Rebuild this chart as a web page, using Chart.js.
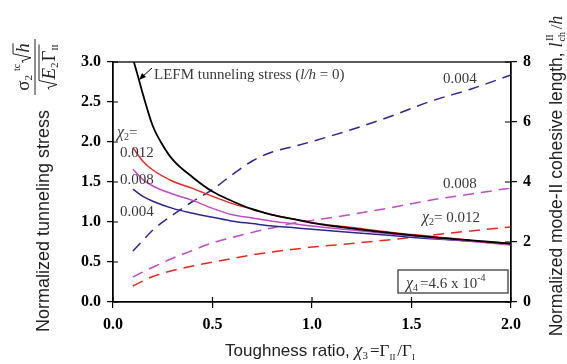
<!DOCTYPE html>
<html>
<head>
<meta charset="utf-8">
<script src="https://cdn.jsdelivr.net/npm/chart.js@4.4.0/dist/chart.umd.min.js"></script>
<style>
  html, body { margin: 0; padding: 0; background: #fff; }
  #chartDiv { display: block; }
</style>
</head>
<body>
<canvas id="chartDiv" width="567" height="364"></canvas>
<script>
// toughness ratio values (x)
const xs = [0.1, 0.15, 0.2, 0.3, 0.4, 0.5, 0.6, 0.7, 0.8, 0.9, 1.0, 1.2, 1.4, 1.6, 1.8, 2.0];
const xLefm = [0.105, 0.13, 0.15, 0.2, 0.25, 0.3, 0.4, 0.5, 0.6, 0.7, 0.8, 0.9, 1.0, 1.2, 1.4, 1.6, 1.8, 2.0];

// normalized tunneling stress (left axis)
const lefm = [3.0, 2.78, 2.6, 2.2, 1.96, 1.78, 1.56, 1.38, 1.26, 1.16, 1.09, 1.04, 0.99, 0.92, 0.86, 0.81, 0.77, 0.73];
const stress012 = [1.93, 1.76, 1.65, 1.51, 1.42, 1.32, 1.23, 1.16, 1.09, 1.04, 0.99, 0.93, 0.87, 0.82, 0.77, 0.73];
const stress008 = [1.66, 1.53, 1.45, 1.35, 1.27, 1.17, 1.09, 1.05, 1.01, 0.98, 0.95, 0.9, 0.85, 0.8, 0.76, 0.71];
const stress004 = [1.41, 1.32, 1.26, 1.17, 1.11, 1.06, 1.01, 0.98, 0.95, 0.93, 0.91, 0.87, 0.83, 0.79, 0.76, 0.72];

// normalized cohesive length (right axis)
const len004 = [1.7, 2.05, 2.4, 2.9, 3.35, 3.75, 4.25, 4.7, 5.0, 5.17, 5.35, 5.75, 6.2, 6.7, 7.1, 7.57];
const len008 = [0.83, 1.0, 1.16, 1.46, 1.72, 1.97, 2.15, 2.32, 2.47, 2.62, 2.72, 2.92, 3.15, 3.4, 3.6, 3.8];
const len012 = [0.53, 0.7, 0.85, 1.05, 1.2, 1.33, 1.45, 1.57, 1.67, 1.75, 1.83, 1.95, 2.08, 2.23, 2.37, 2.5];

const RED = "#e8281f", MAG = "#c24cc4", BLUE = "#2c2790", TXT = "#3a3a3a";
const SERIF = "'Liberation Serif', 'Times New Roman', serif";
const SANS = "'Liberation Sans', Arial, sans-serif";

const pts = (xArr, yArr) => yArr.map((y, i) => ({ x: xArr[i], y: y }));

const solid = (label, xArr, yArr, color, w) => ({
  label, data: pts(xArr, yArr), borderColor: color, borderWidth: w || 1.5,
  yAxisID: "y", pointRadius: 0, cubicInterpolationMode: "monotone", showLine: true,
});
const dashed = (label, yArr, color) => ({
  label, data: pts(xs, yArr), borderColor: color, borderWidth: 1.5, borderDash: [11, 7],
  yAxisID: "y2", pointRadius: 0, cubicInterpolationMode: "monotone", showLine: true,
});

// draws a list of text runs one after another, returns end x
function runs(ctx, list, x, y) {
  list.forEach((r) => {
    ctx.font = r.f;
    ctx.fillText(r.t, x, y + (r.dy || 0));
    x += ctx.measureText(r.t).width + (r.gap || 0);
  });
  return x;
}
function runsWidth(ctx, list) {
  let w = 0;
  list.forEach((r) => { ctx.font = r.f; w += ctx.measureText(r.t).width + (r.gap || 0); });
  return w;
}
// radical sign starting at x0, baseline b, over a radicand of width w
function radical(ctx, x0, b, w) {
  ctx.beginPath();
  ctx.moveTo(x0, b - 6);
  ctx.lineTo(x0 + 2, b - 7);
  ctx.lineTo(x0 + 5, b + 2);
  ctx.lineTo(x0 + 9, b - 16);
  ctx.lineTo(x0 + 10 + w, b - 16);
  ctx.stroke();
  return x0 + 10;
}

const fs = (s, st) => `${st || ""} ${s}px ${SERIF}`;

const textPlugin = {
  id: "texts",
  afterDraw(chart) {
    const ctx = chart.ctx;
    const a = chart.chartArea;
    ctx.save();

    // frame
    ctx.strokeStyle = "#000";
    ctx.lineWidth = 1.3;
    ctx.strokeRect(a.left, a.top, a.right - a.left, a.bottom - a.top);

    // inward tick halves
    ctx.lineWidth = 1.2;
    ctx.beginPath();
    chart.scales.x.ticks.forEach((t) => {
      const p = chart.scales.x.getPixelForValue(t.value);
      ctx.moveTo(p, a.bottom); ctx.lineTo(p, a.bottom - 5);
    });
    chart.scales.y.ticks.forEach((t) => {
      const p = chart.scales.y.getPixelForValue(t.value);
      ctx.moveTo(a.left, p); ctx.lineTo(a.left + 5, p);
    });
    chart.scales.y2.ticks.forEach((t) => {
      const p = chart.scales.y2.getPixelForValue(t.value);
      ctx.moveTo(a.right, p); ctx.lineTo(a.right - 6, p);
    });
    ctx.stroke();

    // annotations
    ctx.fillStyle = TXT;
    ctx.textBaseline = "alphabetic";
    ctx.textAlign = "left";
    runs(ctx, [{ t: "χ", f: fs(16, "italic") }, { t: "2", f: fs(10), dy: 3 }, { t: "=", f: fs(15) }], 117, 137);
    ctx.font = fs(15);
    ctx.fillText("0.012", 120, 157);
    ctx.fillText("0.008", 120, 184);
    ctx.fillText("0.004", 120, 216);
    ctx.fillText("0.004", 443, 83);
    ctx.fillText("0.008", 443, 188);
    runs(ctx, [{ t: "χ", f: fs(16, "italic") }, { t: "2", f: fs(10), dy: 3 }, { t: "= 0.012", f: fs(15) }], 422, 222);
    runs(ctx, [{ t: "LEFM tunneling stress (", f: fs(15) }, { t: "l/h", f: fs(15, "italic") }, { t: " = 0)", f: fs(15) }], 154, 79);

    // arrow
    ctx.strokeStyle = "#000";
    ctx.fillStyle = "#000";
    ctx.lineWidth = 1;
    ctx.beginPath();
    ctx.moveTo(152, 68); ctx.lineTo(142, 77);
    ctx.stroke();
    ctx.beginPath();
    ctx.moveTo(139, 80); ctx.lineTo(146, 77); ctx.lineTo(142, 73);
    ctx.closePath(); ctx.fill();

    // chi4 box
    ctx.strokeStyle = "#555";
    ctx.lineWidth = 1.5;
    ctx.fillStyle = "#fff";
    ctx.fillRect(398, 270, 110, 23);
    ctx.strokeRect(398, 270, 110, 23);
    ctx.fillStyle = TXT;
    runs(ctx, [{ t: "χ", f: fs(16, "italic") }, { t: "4", f: fs(10), dy: 3, gap: 2 }, { t: "=4.6 x 10", f: fs(15) }, { t: "-4", f: fs(10), dy: -7 }], 406, 288);

    // x axis title
    ctx.fillStyle = "#222";
    const xt = [
      { t: "Toughness ratio, ", f: `17px ${SANS}` },
      { t: "χ", f: fs(18, "italic") }, { t: "3", f: fs(11), dy: 3, gap: 2 },
      { t: "=Γ", f: fs(17) }, { t: "II", f: fs(9), dy: 4, gap: 2 },
      { t: "/Γ", f: fs(17) }, { t: "I", f: fs(9), dy: 4 },
    ];
    runs(ctx, xt, 320 - runsWidth(ctx, xt) / 2, 356);

    // left title
    ctx.save();
    ctx.translate(49, 221);
    ctx.rotate(-Math.PI / 2);
    ctx.font = `18px ${SANS}`;
    ctx.textAlign = "center";
    ctx.fillText("Normalized tunneling stress", 0, 0);
    ctx.restore();

    // left fraction sigma2^tc sqrt(h) / sqrt(E2 Gamma_II)
    ctx.save();
    ctx.translate(35, 67);
    ctx.rotate(-Math.PI / 2);
    ctx.textAlign = "left";
    ctx.strokeStyle = "#222";
    ctx.fillStyle = "#222";
    ctx.lineWidth = 1;
    ctx.beginPath(); ctx.moveTo(-28, 0); ctx.lineTo(28, 0); ctx.stroke();
    const num = [
      { t: "σ", f: fs(19) }, { t: "2", f: fs(11), dy: 3, gap: 4 },
      { t: "tc", f: fs(10), dy: -9, gap: 1 },
    ];
    ctx.font = fs(19, "italic");
    const hw = ctx.measureText("h").width;
    const nw = runsWidth(ctx, num) + 10 + hw;
    let nx = runs(ctx, num, -nw / 2, -6);
    nx = radical(ctx, nx, -6, hw);
    ctx.font = fs(19, "italic");
    ctx.fillText("h", nx, -6);
    const den = [
      { t: "E", f: fs(19, "italic") }, { t: "2", f: fs(11), dy: 3, gap: 1 },
      { t: "Γ", f: fs(19) }, { t: "II", f: fs(9), dy: 3 },
    ];
    const dwid = runsWidth(ctx, den);
    const dx0 = radical(ctx, -(dwid + 10) / 2, 20, dwid);
    runs(ctx, den, dx0, 20);
    ctx.restore();

    // right title
    ctx.save();
    ctx.translate(562, 176);
    ctx.rotate(-Math.PI / 2);
    const rt = [
      { t: "Normalized mode-II cohesive length, ", f: `17.5px ${SANS}` },
      { t: "l", f: fs(18, "italic"), gap: 1 }, { t: "ch", f: fs(10), dy: 3, gap: -9 },
      { t: "II", f: fs(10), dy: -9, gap: 5 }, { t: "/", f: fs(17) }, { t: "h", f: fs(18, "italic") },
    ];
    runs(ctx, rt, -runsWidth(ctx, rt) / 2, 0);
    ctx.restore();

    ctx.restore();
  },
};

const tickFont = { family: SERIF, size: 16, weight: "bold" };
const grid = { drawOnChartArea: false, drawTicks: true, tickLength: 6, color: "#000", lineWidth: 1.2 };

new Chart(document.getElementById("chartDiv"), {
  type: "scatter",
  data: {
    datasets: [
      solid("LEFM", xLefm, lefm, "#000", 1.8),
      solid("0.012", xs, stress012, RED),
      solid("0.008", xs, stress008, MAG),
      solid("0.004", xs, stress004, BLUE),
      dashed("l 0.004", len004, BLUE),
      dashed("l 0.008", len008, MAG),
      dashed("l 0.012", len012, RED),
    ],
  },
  options: {
    responsive: false,
    animation: false,
    devicePixelRatio: 1,
    layout: { padding: { top: 62, left: 0, right: 0, bottom: 0 }, autoPadding: false },
    plugins: { legend: { display: false }, tooltip: { enabled: false } },
    scales: {
      x: {
        type: "linear", min: 0, max: 2,
        ticks: { stepSize: 0.5, font: tickFont, color: "#000", padding: 7, callback: (v) => v.toFixed(1), maxRotation: 0 },
        grid: grid, border: { color: "#000", width: 1.3 },
        afterFit: (s) => { s.height = 62; },
      },
      y: {
        type: "linear", position: "left", min: 0, max: 3,
        ticks: { stepSize: 0.5, font: tickFont, color: "#000", padding: 6, callback: (v) => v.toFixed(1) },
        grid: grid, border: { color: "#000", width: 1.3 },
        afterFit: (s) => { s.width = 113; },
      },
      y2: {
        type: "linear", position: "right", min: 0, max: 8,
        ticks: { stepSize: 2, font: tickFont, color: "#000", padding: 6 },
        grid: grid, border: { color: "#000", width: 1.3 },
        afterFit: (s) => { s.width = 56; },
      },
    },
  },
  plugins: [textPlugin],
});
</script>
</body>
</html>
